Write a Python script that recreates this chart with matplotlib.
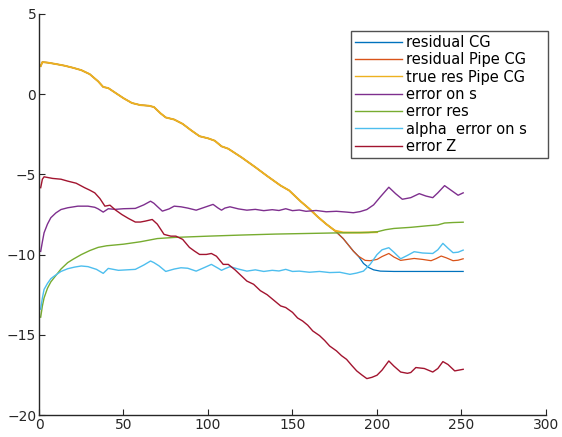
import numpy as np
import matplotlib
matplotlib.use('Agg')
import matplotlib.pyplot as plt

plt.rcParams['font.family'] = 'DejaVu Sans'
plt.rcParams['font.size'] = 10

# values
x_yellow = [1, 2, 5, 10, 15, 20, 25, 30, 35, 38, 41, 45, 50, 55, 60, 65, 68, 72, 75, 80,
            85, 90, 95, 100, 104, 108, 112, 120, 128, 135, 143, 148, 155, 160, 165, 170,
            175, 180, 190, 200]
true_res_pipe = [1.75, 2.0, 1.97, 1.88, 1.78, 1.65, 1.5, 1.25, 0.8, 0.45, 0.38, 0.1, -0.25,
                 -0.55, -0.68, -0.72, -0.8, -1.2, -1.45, -1.58, -1.85, -2.25, -2.62, -2.75,
                 -2.9, -3.25, -3.4, -3.95, -4.55, -5.1, -5.7, -6.0, -6.7, -7.15, -7.65, -8.1,
                 -8.5, -8.62, -8.63, -8.6]

x_orange = x_yellow[:37] + [180, 186, 189, 193, 196, 200, 203, 207, 210, 214, 218, 222, 227,
                            232, 235, 238, 241, 245, 248, 251]
res_pipe = true_res_pipe[:37] + [-9.0, -9.78, -10.1, -10.36, -10.38, -10.3, -10.12, -9.93,
                                 -10.15, -10.36, -10.3, -10.24, -10.3, -10.38, -10.25, -10.09,
                                 -10.2, -10.38, -10.35, -10.26]

x_blue = x_yellow[:37] + [180, 186, 189, 192, 195, 198, 202, 210, 220, 230, 240, 251]
res_cg = true_res_pipe[:37] + [-9.0, -9.78, -10.1, -10.55, -10.8, -10.95, -11.03, -11.05,
                               -11.05, -11.05, -11.05, -11.05]

x_purple = [1, 2, 3, 5, 7, 10, 13, 17, 20, 23, 29, 33, 35, 38, 41, 45, 50, 57, 62, 66, 68, 70,
            73, 77, 80, 84, 88, 93, 98, 103, 106, 108, 110, 113, 118, 123, 128, 133, 138, 142,
            146, 150, 154, 158, 164, 170, 176, 182, 186, 190, 194, 198, 202, 207, 211, 215, 220,
            225, 229, 233, 236, 240, 244, 248, 251]
err_s = [-9.8, -9.2, -8.64, -8.1, -7.7, -7.4, -7.19, -7.08, -7.03, -6.98, -6.98, -7.05, -7.15,
         -7.35, -7.14, -7.18, -7.14, -7.12, -6.9, -6.67, -6.8, -7.0, -7.29, -7.15, -6.98, -7.02,
         -7.1, -7.23, -7.05, -6.87, -7.1, -7.23, -7.1, -7.02, -7.15, -7.23, -7.18, -7.26, -7.2,
         -7.25, -7.14, -7.26, -7.22, -7.3, -7.25, -7.33, -7.3, -7.35, -7.39, -7.32, -7.19, -6.9,
         -6.4, -5.8, -6.2, -6.55, -6.45, -6.2, -6.35, -6.45, -6.15, -5.7, -6.0, -6.3, -6.15]

x_green = [1, 2, 3, 5, 7, 10, 13, 17, 20, 25, 30, 35, 40, 50, 60, 70, 80, 100, 120, 140, 160,
           180, 195, 200, 205, 210, 220, 230, 236, 240, 245, 251]
err_res = [-13.9, -13.2, -12.7, -12.1, -11.7, -11.3, -10.9, -10.5, -10.3, -10.0, -9.75, -9.55,
           -9.45, -9.35, -9.2, -9.0, -8.93, -8.85, -8.78, -8.72, -8.68, -8.64, -8.62, -8.58,
           -8.45, -8.37, -8.3, -8.2, -8.15, -8.03, -8.0, -7.98]

x_cyan = [1, 2, 3, 5, 7, 9, 13, 17, 21, 25, 29, 34, 38, 41, 47, 52, 57, 62, 66, 68, 71, 75, 80,
          84, 88, 93, 98, 102, 106, 108, 110, 113, 118, 123, 128, 133, 138, 142, 146, 150, 154,
          160, 166, 172, 178, 184, 188, 192, 196, 200, 203, 207, 210, 214, 218, 222, 227, 233,
          236, 239, 242, 245, 248, 251]
alpha_err_s = [-13.4, -12.7, -12.17, -11.8, -11.5, -11.34, -11.05, -10.88, -10.78, -10.71,
               -10.75, -10.92, -11.17, -10.86, -10.98, -10.95, -10.92, -10.65, -10.4, -10.5,
               -10.7, -11.05, -10.9, -10.82, -10.85, -11.03, -10.8, -10.61, -10.85, -10.98,
               -10.88, -10.75, -10.9, -11.03, -10.95, -11.05, -10.98, -11.02, -10.92, -11.05,
               -11.03, -11.1, -11.05, -11.12, -11.1, -11.23, -11.15, -11.03, -10.6, -10.0,
               -9.7, -9.57, -9.85, -10.26, -10.05, -9.82, -9.9, -9.93, -9.7, -9.3, -9.6, -9.88,
               -9.85, -9.72]

x_red = [1, 2, 3, 8, 13, 17, 22, 27, 30, 33, 36, 39, 42, 45, 49, 53, 57, 60, 63, 67, 70, 74, 78,
         81, 85, 89, 92, 95, 99, 102, 105, 109, 112, 116, 119, 123, 127, 131, 135, 139, 143, 146,
         150, 153, 156, 159, 162, 166, 169, 172, 176, 179, 182, 185, 188, 191, 194, 197, 200,
         203, 207, 210, 214, 218, 220, 223, 228, 233, 236, 239, 242, 246, 251]
err_z = [-5.83, -5.3, -5.15, -5.25, -5.3, -5.42, -5.55, -5.83, -5.98, -6.15, -6.5, -6.98, -6.92,
         -7.2, -7.5, -7.75, -7.97, -7.97, -7.91, -7.81, -8.1, -8.74, -8.85, -8.85, -9.05, -9.55,
         -9.78, -9.99, -9.99, -9.93, -10.1, -10.61, -10.61, -10.95, -11.25, -11.65, -11.85,
         -12.25, -12.5, -12.85, -13.2, -13.3, -13.6, -13.95, -14.14, -14.4, -14.76, -15.05,
         -15.35, -15.7, -16.0, -16.3, -16.53, -16.9, -17.25, -17.5, -17.73, -17.65, -17.52,
         -17.2, -16.63, -16.95, -17.32, -17.4, -17.35, -17.04, -17.1, -17.32, -17.1, -16.67,
         -16.85, -17.25, -17.15]

series = [
    (x_blue, res_cg, 'residual CG', '#0072BD', 0.9),
    (x_orange, res_pipe, 'residual Pipe CG', '#D95319', 0.9),
    (x_yellow, true_res_pipe, 'true res Pipe CG', '#EDB120', 1.4),
    (x_purple, err_s, 'error on s', '#7E2F8E', 1.0),
    (x_green, err_res, 'error res', '#77AC30', 1.0),
    (x_cyan, alpha_err_s, 'alpha  error on s', '#4DBEEE', 1.0),
    (x_red, err_z, 'error Z', '#A2142F', 1.0),
]

fig = plt.figure(figsize=(5.62, 4.37), dpi=100)
ax = fig.add_axes([0.0694, 0.0503, 0.9021, 0.9177])

for xs, ys, name, col, w in series:
    ax.plot(xs, ys, color=col, lw=w, label=name)

ax.set_xlim(0, 300)
ax.set_ylim(-20, 5)
ax.set_xticks(np.arange(0, 301, 50))
ax.set_yticks(np.arange(-20, 6, 5))
for s in ['top', 'right']:
    ax.spines[s].set_visible(False)
for s in ['left', 'bottom']:
    ax.spines[s].set_color('#262626')
    ax.spines[s].set_linewidth(1.0)
ax.tick_params(direction='in', length=4, color='#262626', labelcolor='#262626', pad=2)

leg = ax.legend(loc='upper left', bbox_to_anchor=(350.5 / 562, 0.4, 197.5 / 562, 1 - 30.5 / 437 - 0.4),
                bbox_transform=fig.transFigure, mode='expand', fontsize=10.5, frameon=True,
                fancybox=False, borderpad=0.3, labelspacing=0.16, handlelength=3.2,
                handletextpad=0.33, borderaxespad=0)
leg.get_frame().set_edgecolor('#262626')
leg.get_frame().set_linewidth(1.0)
for h in leg.legend_handles:
    h.set_linewidth(1.0)

plt.savefig('out.png', dpi=100)
